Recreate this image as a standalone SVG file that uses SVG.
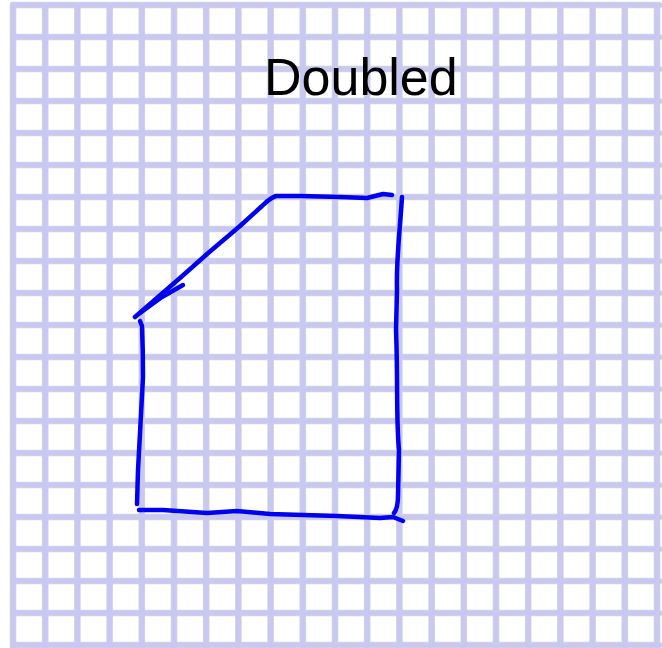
<svg xmlns="http://www.w3.org/2000/svg" width="662" height="648" viewBox="0 0 662 648">
<style>
.gridEdge{fill:none;stroke:#d6d6dc;stroke-width:6.6;stroke-linecap:round}
.grid{fill:none;stroke:#c8c8f2;stroke-width:5.2;stroke-linecap:round}
.ink{fill:none;stroke:#0000f0;stroke-width:4.5;stroke-linecap:round;stroke-linejoin:round}
.label{font-family:"Liberation Sans",Arial,sans-serif;font-size:52px;fill:#000}
</style>
<rect width="662" height="648" fill="#fff"/>
<defs>
<path id="gridPath" d="M13,5V648M45.2,5V648M77.4,5V648M109.6,5V648M141.8,5V648M174,5V648M206.2,5V648M238.4,5V648M270.6,5V648M302.8,5V648M335,5V648M367.2,5V648M399.4,5V648M431.6,5V648M463.8,5V648M496,5V648M528.2,5V648M560.4,5V648M592.6,5V648M624.8,5V648M657,5V648M13,5H659M13,37H659M13,69H659M13,101H659M13,133H659M13,165H659M13,197H659M13,229H659M13,261H659M13,293H659M13,325H659M13,357H659M13,389H659M13,421H659M13,453H659M13,485H659M13,517H659M13,549H659M13,581H659M13,613H659M13,645H659"/>
</defs>
<g id="grid">
<use href="#gridPath" class="gridEdge"/>
<use href="#gridPath" class="grid"/>
</g>
<g id="title">
<text class="label" x="264" y="95">Doubled</text>
</g>
<g id="shape">
<path class="ink" d="M135,317 L180,278 L207,254 L240,226 L262,206 Q270,198 276,196 L300,196 L340,197 L367,198 L383,194 L392,195"/>
<path class="ink" d="M183,285 L162,297 L140,313"/>
<path class="ink" d="M402,197 C400,230 396,260 397,290 L396,330 C398,380 396,420 399,450 L398,495 Q398,508 394,513"/>
<path class="ink" d="M140,321 L142,326 C143,350 143,370 143,377 L140,433 L138,470 L137,504"/>
<path class="ink" d="M139,510 L163,510 L207,513 L237,511 L270,514 L337,516 L380,518 L393,517 L403,521"/>
</g>
</svg>
